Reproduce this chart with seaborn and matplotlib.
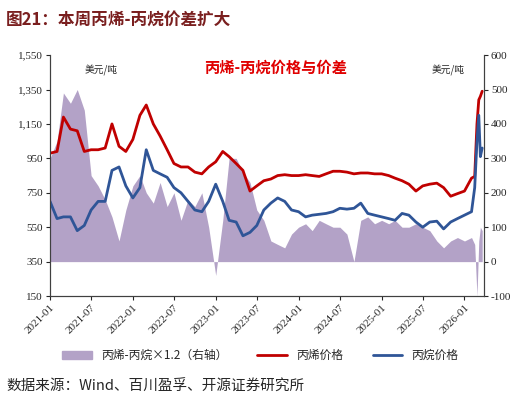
import matplotlib
matplotlib.use('Agg')
import matplotlib.pyplot as plt
import matplotlib.dates as mdates
from matplotlib.patches import Patch
from matplotlib.lines import Line2D
import pandas as pd
import seaborn as sns

sns.set_style('white')
plt.rcParams['font.family'] = ['Noto Sans CJK SC', 'DejaVu Sans']

# monthly points 2021-01 .. 2026-01, then finer points for the 2026 spike
dates = list(pd.date_range('2021-01-01', '2026-01-01', freq='MS')) + \
    list(pd.to_datetime(['2026-02-01', '2026-02-15', '2026-02-25', '2026-03-05', '2026-03-12', '2026-03-20']))

propylene = [980, 990, 1190, 1120, 1110, 990, 1000, 1000, 1010, 1150, 1020, 990,
             1060, 1200, 1260, 1150, 1080, 1000, 920, 900, 900, 870, 860, 900,
             930, 990, 960, 920, 880, 760, 790, 820, 830, 850, 855, 850,
             850, 855, 850, 845, 860, 875, 875, 870, 860, 865, 865, 860,
             860, 850, 835, 820, 800, 760, 790, 800, 806, 780, 730, 745,
             760, 835, 845, 1150, 1290, 1310, 1340]
propane = [700, 600, 610, 610, 530, 560, 650, 700, 700, 880, 900, 790,
           720, 780, 1000, 880, 860, 840, 780, 750, 700, 650, 640, 700,
           800, 700, 590, 580, 500, 520, 560, 650, 690, 720, 700, 650,
           640, 610, 620, 625, 630, 640, 660, 655, 660, 690, 630, 620,
           610, 600, 590, 630, 620, 580, 550, 580, 585, 540, 580, 600,
           620, 640, 780, 1050, 1200, 960, 1010]
spread = [300, 350, 490, 460, 500, 440, 250, 220, 180, 130, 60, 150,
          220, 250, 200, 170, 230, 160, 200, 120, 180, 160, 200, 100,
          -40, 120, 300, 300, 260, 230, 150, 120, 60, 50, 40, 80,
          100, 110, 90, 120, 110, 100, 100, 80, 0, 120, 130, 110,
          120, 110, 120, 100, 100, 110, 100, 90, 60, 40, 60, 70,
          60, 70, 50, -100, 60, 100, 90]

df = pd.DataFrame({'date': dates, 'propylene': propylene, 'propane': propane, 'spread': spread})

red = '#c00000'
blue = '#2f5597'
purple = '#b3a2c7'
serif = 'Liberation Serif'

fig = plt.figure(figsize=(5.21, 4.05), dpi=100)
ax = fig.add_axes([0.096, 0.269, 0.833, 0.595])
ax2 = ax.twinx()

ax2.fill_between(df['date'], 0, df['spread'], color=purple, linewidth=0)
ax2.set_zorder(0)
ax.set_zorder(1)
ax.patch.set_visible(False)
sns.lineplot(data=df, x='date', y='propylene', ax=ax, color=red, linewidth=2)
sns.lineplot(data=df, x='date', y='propane', ax=ax, color=blue, linewidth=2)

ax.set_ylim(150, 1550)
ax.set_yticks(range(150, 1551, 200))
ax.set_yticklabels([f'{v:,}' for v in range(150, 1551, 200)], fontfamily=serif, fontsize=8)
ax2.set_ylim(-100, 600)
ax2.set_yticks(range(-100, 601, 100))
ax2.set_yticklabels([str(v) for v in range(-100, 601, 100)], fontfamily=serif, fontsize=8)
ax.set_xlim(pd.Timestamp('2021-01-01'), pd.Timestamp('2026-03-28'))
ax.xaxis.set_major_locator(mdates.MonthLocator(bymonth=[1, 7]))
ax.xaxis.set_major_formatter(mdates.DateFormatter('%Y-%m'))
for lab in ax.get_xticklabels():
    lab.set_rotation(45)
    lab.set_fontfamily(serif)
    lab.set_fontsize(8)
    lab.set_ha('right')
    lab.set_rotation_mode('anchor')
ax.set_xlabel('')
ax.set_ylabel('')
for a in (ax, ax2):
    a.spines['top'].set_visible(False)
    a.tick_params(length=3, direction='out', pad=2)
    for s in a.spines.values():
        s.set_color('#404040')
        s.set_linewidth(0.8)
ax.tick_params(axis='both', left=True, bottom=True)
ax2.tick_params(axis='y', right=True)

ax.text(0.08, 0.96, '美元/吨', transform=ax.transAxes, fontsize=7, va='top')
ax2.text(0.88, 0.96, '美元/吨', transform=ax.transAxes, fontsize=7, va='top')
ax.text(0.52, 0.98, '丙烯-丙烷价格与价差', transform=ax.transAxes, fontsize=11,
        color='#e00000', ha='center', va='top', fontweight='bold')

fig.text(0.012, 0.95, '图21：本周丙烯-丙烷价差扩大', fontsize=12, fontweight='bold',
         color='#7a1f1f', va='center')

handles = [Patch(color=purple, label='丙烯-丙烷×1.2（右轴）'),
           Line2D([], [], color=red, linewidth=2, label='丙烯价格'),
           Line2D([], [], color=blue, linewidth=2, label='丙烷价格')]
fig.legend(handles=handles, loc='center', bbox_to_anchor=(0.5, 0.122), ncol=3,
           frameon=False, fontsize=8.5, handlelength=2.5, columnspacing=2.5)

fig.text(0.012, 0.045, '数据来源：Wind、百川盈孚、开源证券研究所', fontsize=10.5, va='center')

fig.savefig('out.png', dpi=100)
